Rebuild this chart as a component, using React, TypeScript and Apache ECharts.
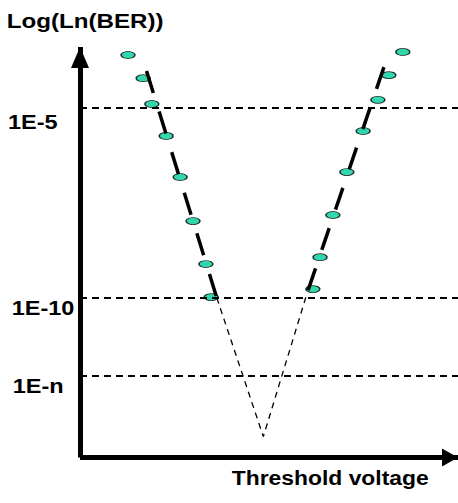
import React, { useEffect, useRef } from "react";
import * as echarts from "echarts";

// Measured BER points (x: threshold voltage, arbitrary units; y: log10 exponent)
const leftX = [12.7, 16.7, 19.0, 22.8, 26.5, 29.9, 33.3, 34.7];
const leftY = [-3.61, -4.22, -4.9, -5.74, -6.82, -7.98, -9.11, -9.98];
const rightX = [85.4, 81.7, 78.8, 74.9, 70.6, 66.9, 63.5, 61.6];
const rightY = [-3.53, -4.14, -4.79, -5.61, -6.69, -7.82, -8.93, -9.77];

// Linear fits (thick dashed)
const leftFitX = [17.6, 36.2];
const leftFitY = [-4.03, -10.0];
const rightFitX = [80.4, 60.0];
const rightFitY = [-3.93, -9.9];

// Extrapolation V (thin dashed)
const extrapX = [36.2, 48.5, 60.0];
const extrapY = [-10.0, -13.65, -9.9];

// Reference levels
const levelValues = [-5, -10, -12.05];
const levelLabels = ["1E-5", "1E-10", "1E-n"];

const zip = (xs: number[], ys: number[]) => xs.map((x, i) => [x, ys[i]]);

const FONT = "'Liberation Sans', Arial, sans-serif";

export default function App() {
  const ref = useRef<HTMLDivElement>(null);
  useEffect(() => {
    if (!ref.current) return;
    const chart = echarts.init(ref.current, undefined, { renderer: "svg" });
    const textStyle = (text: string) => ({
      text,
      fontSize: 21,
      fontWeight: "bold" as const,
      fontFamily: FONT,
      fill: "#000",
      align: "left" as const,
      verticalAlign: "middle" as const,
    });
    const labelPos = [
      [8, 121.7],
      [11.7, 308],
      [12.7, 386],
    ];
    chart.setOption({
      animation: false,
      grid: { left: 80, right: 0, top: 47, bottom: 45.5 },
      xAxis: {
        type: "value",
        min: 0,
        max: 100,
        axisLine: {
          show: true,
          onZero: false,
          symbol: ["none", "triangle"],
          symbolSize: [18, 16],
          symbolOffset: [0, -8],
          lineStyle: { color: "#000", width: 5, cap: "butt" },
        },
        axisTick: { show: false },
        axisLabel: { show: false },
        splitLine: { show: false },
      },
      yAxis: {
        type: "value",
        min: -14.2,
        max: -3.4,
        axisLine: {
          show: true,
          onZero: false,
          symbol: ["none", "triangle"],
          symbolSize: [18, 21],
          symbolOffset: [0, -10.5],
          lineStyle: { color: "#000", width: 5, cap: "butt" },
        },
        axisTick: { show: false },
        axisLabel: { show: false },
        splitLine: { show: false },
      },
      series: [
        {
          type: "scatter",
          name: "left",
          data: zip(leftX, leftY),
          symbol: "circle",
          symbolSize: [14, 7],
          itemStyle: { color: "#00CC99", borderColor: "#000", borderWidth: 1 },
          z: 2,
          silent: true,
          markLine: {
            silent: true,
            symbol: ["none", "none"],
            label: { show: false },
            lineStyle: { color: "#000", width: 2, type: [7, 5] },
            data: levelValues.map((v) => ({ yAxis: v })),
            z: 4,
          },
        },
        {
          type: "scatter",
          name: "right",
          data: zip(rightX, rightY),
          symbol: "circle",
          symbolSize: [14, 7],
          itemStyle: { color: "#00CC99", borderColor: "#000", borderWidth: 1 },
          z: 2,
          silent: true,
        },
        {
          type: "line",
          data: zip(leftFitX, leftFitY),
          showSymbol: false,
          symbol: "none",
          lineStyle: { color: "#000", width: 3.5, type: [23, 19.5] },
          z: 5,
          silent: true,
        },
        {
          type: "line",
          data: zip(rightFitX, rightFitY),
          showSymbol: false,
          symbol: "none",
          lineStyle: { color: "#000", width: 3.5, type: [23, 19.5] },
          z: 5,
          silent: true,
        },
        {
          type: "line",
          data: zip(extrapX, extrapY),
          showSymbol: false,
          symbol: "none",
          lineStyle: { color: "#000", width: 1.3, type: [6, 5] },
          z: 5,
          silent: true,
        },
      ],
      graphic: [
        { type: "text", x: 6.7, y: 21.2, scaleX: 1.15, style: textStyle("Log(Ln(BER))") },
        ...levelLabels.map((t, i) => ({
          type: "text",
          x: labelPos[i][0],
          y: labelPos[i][1],
          scaleX: 1.12,
          style: textStyle(t),
        })),
        { type: "text", x: 231.7, y: 478, scaleX: 1.09, style: textStyle("Threshold voltage") },
      ],
    });
    return () => chart.dispose();
  }, []);
  return (
    <div
      ref={ref}
      style={{ position: "fixed", left: 0, top: 0, width: 458, height: 503, background: "#fff" }}
    />
  );
}
